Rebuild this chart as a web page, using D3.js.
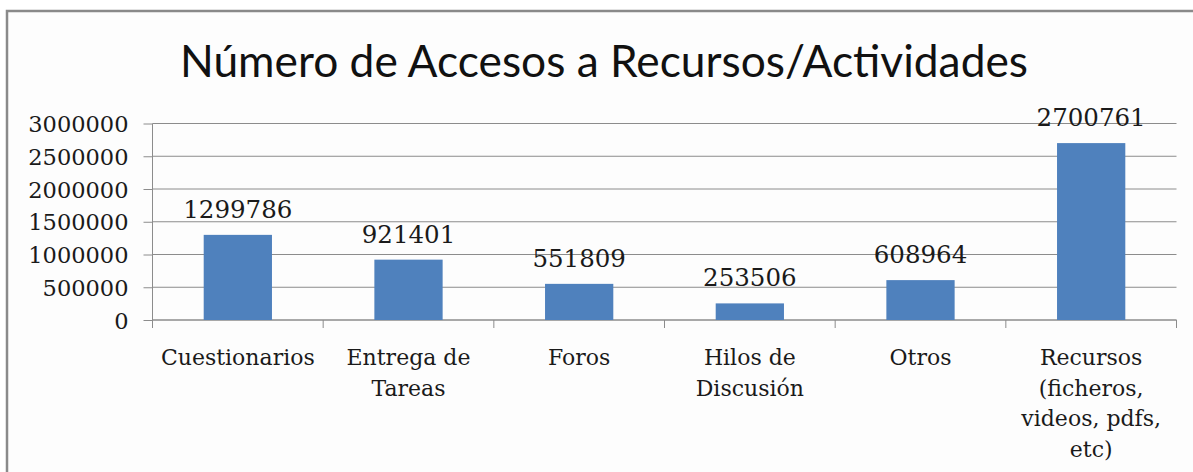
<!DOCTYPE html>
<html>
<head>
<meta charset="utf-8">
<script src="https://cdn.jsdelivr.net/npm/d3@7"></script>
<style>
  html, body { margin: 0; padding: 0; background: #fff; }
  svg { display: block; }
</style>
</head>
<body>
<svg id="chart"></svg>
<script>
// ── data ─────────────────────────────────────────────────────────────────
const title      = "Número de Accesos a Recursos/Actividades";
const categories = ["Cuestionarios", "Entrega de\nTareas", "Foros", "Hilos de\nDiscusión",
                    "Otros", "Recursos\n(ficheros,\nvideos, pdfs,\netc)"];
const accesses   = [1299786, 921401, 551809, 253506, 608964, 2700761];
const yTicks     = [0, 500000, 1000000, 1500000, 2000000, 2500000, 3000000];

// ── geometry ─────────────────────────────────────────────────────────────
const W = 1193, H = 472;
const plot = { left: 152.5, right: 1176.5, top: 123.5, bottom: 320 };

const svg = d3.select("#chart").attr("width", W).attr("height", H);

// frame
svg.append("rect")
    .attr("x", 7).attr("y", 11)
    .attr("width", W + 10).attr("height", H + 10)
    .attr("fill", "#fdfdfd")
    .attr("stroke", "#8a8a8a")
    .attr("stroke-width", 2.5);

// scales
const x = d3.scaleBand()
    .domain(categories)
    .range([plot.left, plot.right])
    .padding(0);

const y = d3.scaleLinear()
    .domain([0, 3000000])
    .range([plot.bottom, plot.top]);

const barW = x.bandwidth() * 0.4;
const serif = "'DejaVu Serif', serif";

// ── grid lines ──
svg.append("g")
    .selectAll("line")
    .data(yTicks)
    .join("line")
    .attr("x1", plot.left).attr("x2", plot.right)
    .attr("y1", d => y(d)).attr("y2", d => y(d))
    .attr("stroke", "#8c8c8c")
    .attr("stroke-width", 1);

// ── y axis ──
const yAxisG = svg.append("g")
    .attr("transform", `translate(${plot.left},0)`)
    .call(d3.axisLeft(y).tickValues(yTicks).tickSize(9).tickPadding(15)
        .tickFormat(d3.format("d")));

yAxisG.select(".domain").remove();
yAxisG.selectAll("line").attr("stroke", "#8c8c8c");
yAxisG.selectAll("text")
    .attr("fill", "#1a1a1a")
    .attr("dy", "0.36em")
    .style("font-family", serif)
    .style("font-size", "22.5px");

// vertical axis line (down to the category tick length)
svg.append("line")
    .attr("x1", plot.left).attr("x2", plot.left)
    .attr("y1", plot.top).attr("y2", plot.bottom + 8)
    .attr("stroke", "#8c8c8c");

// ── x axis ──
const xAxisG = svg.append("g")
    .attr("transform", `translate(0,${plot.bottom})`);

xAxisG.append("line")
    .attr("x1", plot.left).attr("x2", plot.right)
    .attr("stroke", "#8c8c8c");

// boundary ticks between categories
xAxisG.selectAll(".cat-tick")
    .data(categories.slice(1).concat([null]))
    .join("line")
    .attr("class", "cat-tick")
    .attr("x1", (d, i) => x(categories[i]) + x.bandwidth())
    .attr("x2", (d, i) => x(categories[i]) + x.bandwidth())
    .attr("y1", 0).attr("y2", 8)
    .attr("stroke", "#8c8c8c");

// ── bars ──
svg.append("g")
    .selectAll("rect")
    .data(accesses)
    .join("rect")
    .attr("x", (d, i) => x(categories[i]) + (x.bandwidth() - barW) / 2)
    .attr("y", d => y(d))
    .attr("width", barW)
    .attr("height", d => y(0) - y(d))
    .attr("fill", "#4f81bd");

// ── value labels ──
svg.append("g")
    .selectAll("text")
    .data(accesses)
    .join("text")
    .attr("x", (d, i) => x(categories[i]) + x.bandwidth() / 2)
    .attr("y", d => y(d) - 17)
    .attr("text-anchor", "middle")
    .attr("fill", "#1a1a1a")
    .style("font-family", serif)
    .style("font-size", "24.5px")
    .text(d => d);

// ── category labels ──
const catG = svg.append("g");
categories.forEach(c => {
    const t = catG.append("text")
        .attr("text-anchor", "middle")
        .attr("fill", "#1a1a1a")
        .style("font-family", serif)
        .style("font-size", "22px");
    c.split("\n").forEach((line, j) => {
        t.append("tspan")
            .attr("x", x(c) + x.bandwidth() / 2)
            .attr("y", plot.bottom + 45 + j * 30.5)
            .text(line);
    });
});

// ── title ──
svg.append("text")
    .attr("x", 604)
    .attr("y", 77)
    .attr("text-anchor", "middle")
    .attr("fill", "#111")
    .attr("textLength", 848)
    .attr("lengthAdjust", "spacingAndGlyphs")
    .style("font-family", "Lato, 'Open Sans', sans-serif")
    .style("font-size", "44px")
    .text(title);
</script>
</body>
</html>
